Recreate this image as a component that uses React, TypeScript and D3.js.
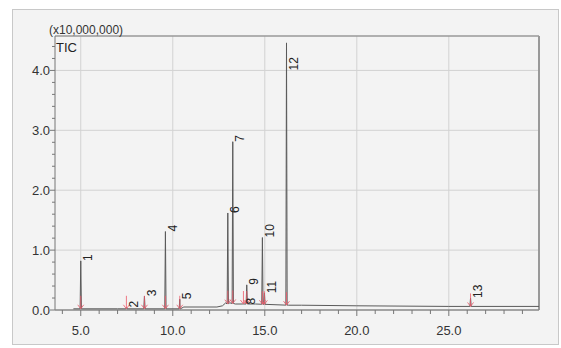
import React from "react";
import * as d3 from "d3";

// peak table (retention time in min, apex intensity in x10,000,000)
const peakLabels = ["1", "2", "3", "4", "5", "6", "7", "8", "9", "10", "11", "12", "13"];
const peakTimes = [5.0, 7.48, 8.46, 9.6, 10.38, 12.99, 13.26, 13.84, 14.02, 14.87, 14.98, 16.18, 26.18];
const peakHeights = [0.82, 0.04, 0.23, 1.31, 0.18, 1.62, 2.81, 0.09, 0.42, 1.21, 0.28, 4.46, 0.2];

// baseline of the TIC trace
const baseTimes = [4.6, 7.0, 10.4, 10.6, 12.4, 12.7, 12.88, 12.95, 13.1, 13.4, 14.5, 16.3, 17.0, 20.0, 25.0, 29.9];
const baseLevels = [0.02, 0.02, 0.02, 0.05, 0.05, 0.07, 0.12, 0.1, 0.12, 0.1, 0.1, 0.08, 0.08, 0.07, 0.06, 0.06];

const xTickValues = [5, 10, 15, 20, 25];
const yTickValues = [0, 1, 2, 3, 4];

const W = 561;
const H = 348;
const left = 55, right = 539, top = 36, bottom = 310;

export default function App() {
  const x = d3.scaleLinear().domain([3.6, 29.9]).range([left, right]);
  const y = d3.scaleLinear().domain([0, 4.575]).range([bottom, top]);
  const baseAt = d3.scaleLinear().domain(baseTimes).range(baseLevels).clamp(true);

  // build trace: baseline points + narrow peaks
  const pts: [number, number][] = baseTimes.map((t, i) => [t, baseLevels[i]]);
  peakTimes.forEach((t, i) => {
    const b = baseAt(t);
    pts.push([t - 0.035, b], [t, Math.max(peakHeights[i], b)], [t + 0.035, b]);
  });
  pts.sort((a, b) => a[0] - b[0]);
  const line = d3.line<[number, number]>().x((d) => x(d[0])).y((d) => y(d[1]));

  const xMinor = d3.range(4, 30);
  const yMinor = d3.range(0, 4.6, 0.2);
  const font = "'Liberation Sans', Arial, sans-serif";

  return (
    <div>
      <style>{`body{margin:0}`}</style>
      <svg width={W} height={H} style={{ display: "block", fontFamily: font }}>
        <rect x={0} y={0} width={W} height={H} fill="#fff" />
        <rect x={12.5} y={9.5} width={546} height={335} fill="#f3f3f3" stroke="#c8c8c8" />

        {/* grid */}
        {xTickValues.map((t) => (
          <line key={"gx" + t} x1={x(t)} x2={x(t)} y1={top} y2={bottom} stroke="#d2d2d2" />
        ))}
        {yTickValues.filter((t) => t > 0).map((t) => (
          <line key={"gy" + t} x1={left} x2={right} y1={y(t)} y2={y(t)} stroke="#d2d2d2" />
        ))}

        {/* frame */}
        <line x1={left} x2={right} y1={top} y2={top} stroke="#999" strokeWidth={1.5} />
        <line x1={right} x2={right} y1={top} y2={bottom} stroke="#999" strokeWidth={2} />
        <line x1={left} x2={left} y1={top} y2={bottom} stroke="#777" />
        <line x1={left} x2={right} y1={bottom} y2={bottom} stroke="#888" strokeWidth={1.5} />

        {/* ticks */}
        {xMinor.map((t) => (
          <line key={"tx" + t} x1={x(t)} x2={x(t)} y1={bottom} y2={bottom + (t % 5 === 0 ? 6 : 4)} stroke="#777" />
        ))}
        {yMinor.map((t, i) => (
          <line key={"ty" + i} x1={left} x2={left - (i % 5 === 0 ? 5 : 3)} y1={y(t)} y2={y(t)} stroke="#777" />
        ))}
        {xTickValues.map((t) => (
          <text key={"lx" + t} x={x(t)} y={335} textAnchor="middle" fontSize={13} fill="#333">
            {t.toFixed(1)}
          </text>
        ))}
        {yTickValues.map((t) => (
          <text key={"ly" + t} x={50} y={y(t)} dy="0.35em" textAnchor="end" fontSize={13} fill="#333">
            {t.toFixed(1)}
          </text>
        ))}
        <text x={49} y={34} fontSize={12} fill="#333">(x10,000,000)</text>
        <text x={56} y={52} fontSize={13} fill="#222">TIC</text>

        {/* trace */}
        <path d={line(pts) ?? ""} fill="none" stroke="#5a5a5a" strokeWidth={1} />

        {/* integration markers */}
        {peakTimes.map((t, i) => {
          const px = x(t);
          const py = y(baseAt(t));
          return (
            <g key={"m" + i} stroke="#ee5a6a" strokeWidth={1} opacity={0.8} fill="none">
              <line x1={px} x2={px} y1={py - 13} y2={py} />
              <path d={`M${px - 3},${py - 4}L${px},${py}L${px + 3},${py - 4}`} />
            </g>
          );
        })}

        {/* peak labels */}
        {peakLabels.map((lab, i) => {
          const lx = x(peakTimes[i]) + 7;
          const ly = Math.max(y(peakHeights[i]), y(4.0));
          return (
            <text
              key={"pl" + i}
              transform={`translate(${lx},${ly}) rotate(-90)`}
              dy="0.35em"
              fontSize={12}
              fill="#222"
            >
              {lab}
            </text>
          );
        })}
      </svg>
    </div>
  );
}
